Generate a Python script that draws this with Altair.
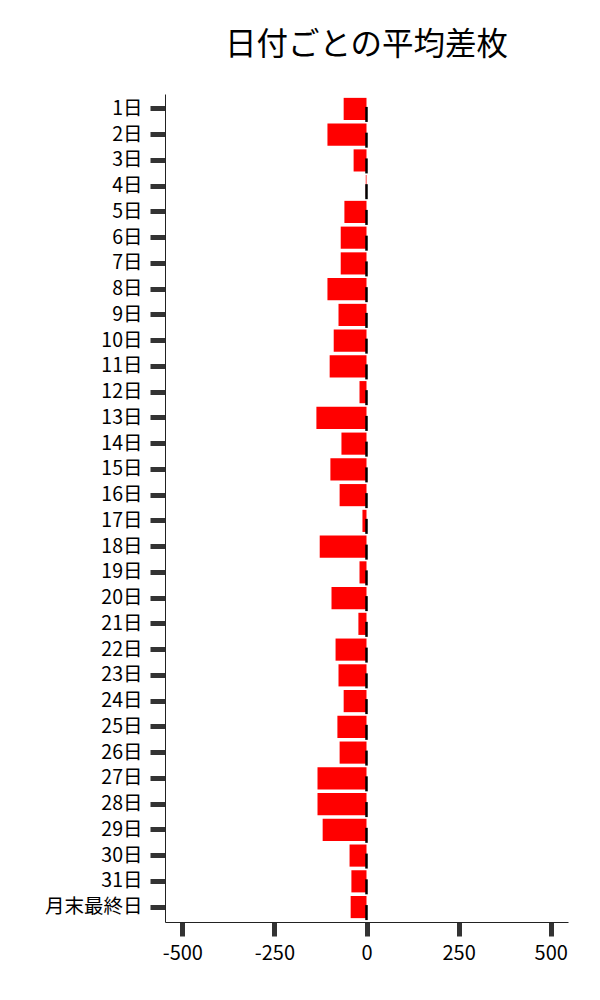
import altair as alt
import pandas as pd

days = [f"{i}日" for i in range(1, 32)] + ["月末最終日"]
values = [-62, -106, -35, -2, -60, -70, -70, -106, -76, -89, -100, -19, -136, -68,
          -98, -73, -11, -127, -19, -95, -22, -84, -76, -62, -79, -73, -133, -133,
          -119, -46, -41, -43]
x_ticks = [-500, -250, 0, 250, 500]

df = pd.DataFrame({"day": days, "value": values, "zero": [0] * len(days)})

FONT = "Noto Sans CJK JP"

y_enc = alt.Y(
    "day:N",
    sort=days,
    title=None,
    scale=alt.Scale(paddingInner=0.14, paddingOuter=0.15),
    axis=alt.Axis(
        labelFont=FONT, labelFontSize=19.5, labelColor="black", labelPadding=8,
        tickSize=15, tickWidth=5, tickColor="#333333",
        domainColor="#222222", domainWidth=1, grid=False,
    ),
)

bars = alt.Chart(df).mark_bar(color="#FF0000").encode(
    x=alt.X(
        "value:Q",
        title=None,
        scale=alt.Scale(domain=[-547, 547], nice=False, zero=False),
        axis=alt.Axis(
            values=x_ticks, labelFont=FONT, labelFontSize=20, labelColor="black",
            labelExpr="'' + datum.value",
            labelPadding=7, tickSize=14, tickWidth=5, tickColor="#333333",
            domainColor="#222222", domainWidth=1, grid=False,
        ),
    ),
    x2="zero:Q",
    y=y_enc,
)

dashes = alt.Chart(df).mark_rule(
    color="black", strokeWidth=2.5, yOffset=-2, y2Offset=13
).encode(
    x="zero:Q",
    y=alt.Y("day:N", sort=days),
    y2="day",
)

chart = (
    alt.layer(bars, dashes)
    .properties(
        width=403,
        height=828,
        autosize=alt.AutoSizeParams(type="none"),
        padding={"left": 157, "top": 86, "right": 20, "bottom": 60},
        title=alt.TitleParams(
            "日付ごとの平均差枚", font=FONT, fontSize=31.5, fontWeight="normal",
            color="black", anchor="middle", offset=33,
        ),
    )
    .configure(background="white")
    .configure_view(strokeWidth=0, stroke="transparent")
)

chart.save("out.html", embed_options={"renderer": "svg", "actions": False})
